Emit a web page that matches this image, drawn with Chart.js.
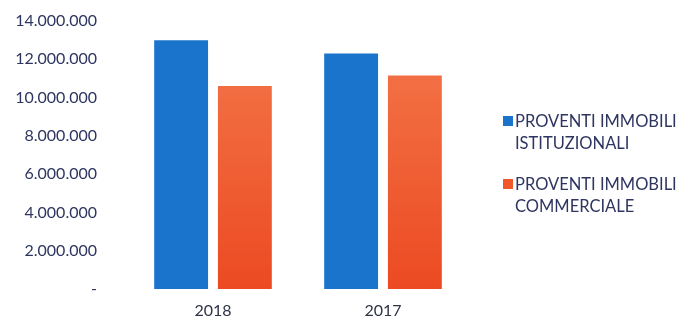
<!DOCTYPE html>
<html>
<head>
<meta charset="utf-8">
<script src="https://cdn.jsdelivr.net/npm/chart.js@4.4.1/dist/chart.umd.min.js"></script>
<style>
  body { margin: 0; background: #fff; }
  #wrap { position: relative; width: 681px; height: 322px; }
  #legend { position: absolute; left: 503px; top: 110px; font-family: Lato, sans-serif; font-size: 16.5px; color: #2e3560; line-height: 22px; }
  .item { position: relative; padding-left: 12px; margin-bottom: 19px; }
  .box { position: absolute; left: 0; top: 6px; width: 10px; height: 10px; }
</style>
</head>
<body>
<div id="wrap">
  <canvas id="chart" width="681" height="322"></canvas>
  <div id="legend"></div>
</div>
<script>
// categories and series
const years = ["2018", "2017"];
const istituzionali = [13000000, 12300000];
const commerciale = [10600000, 11150000];
const seriesNames = [["PROVENTI IMMOBILI", "ISTITUZIONALI"], ["PROVENTI IMMOBILI", "COMMERCIALE"]];

const blue = "#1b74cc";

function orangeFill(context) {
    const area = context.chart.chartArea;
    if (!area) return "#f0582c";
    const g = context.chart.ctx.createLinearGradient(0, area.top, 0, area.bottom);
    g.addColorStop(0, "#f4794c");
    g.addColorStop(1, "#ec4a22");
    return g;
}

const ctx = document.getElementById("chart");
new Chart(ctx, {
    type: "bar",
    data: {
        labels: years,
        datasets: [{
                label: seriesNames[0].join(" "),
                data: istituzionali,
                backgroundColor: blue
            }, {
                label: seriesNames[1].join(" "),
                data: commerciale,
                backgroundColor: orangeFill
            }]
    },
    options: {
        responsive: false,
        animation: false,
        categoryPercentage: 0.75,
        barPercentage: 0.845,
        layout: { padding: { left: 0, right: 213, top: 21, bottom: 0 } },
        plugins: {
            legend: { display: false },
            tooltip: { enabled: false }
        },
        scales: {
            x: {
                grid: { display: false, drawTicks: false },
                border: { display: false },
                afterFit: function (scale) { scale.height = 33; },
                ticks: { color: "#2e3347", font: { family: "Lato", size: 16 }, padding: 12 }
            },
            y: {
                min: 0,
                max: 14000000,
                grid: { display: false, drawTicks: false },
                border: { display: false },
                afterFit: function (scale) {
                    // tick padding would otherwise push the plot down and up
                    scale.width = 128;
                    scale.paddingTop = 0;
                    scale.paddingBottom = 0;
                },
                ticks: {
                    stepSize: 2000000,
                    padding: 31,
                    color: "#2e3560",
                    font: { family: "Lato", size: 16 },
                    callback: function (v) {
                        if (v === 0) return "-";
                        return v.toString().replace(/\B(?=(\d{3})+(?!\d))/g, ".");
                    }
                }
            }
        }
    }
});

// legend with two-line labels, built from the series names
const legend = document.getElementById("legend");
const colors = [blue, "#f0582c"];
seriesNames.forEach(function (lines, i) {
    const item = document.createElement("div");
    item.className = "item";
    item.innerHTML = '<span class="box" style="background:' + colors[i] + '"></span>' + lines.join("<br>");
    legend.appendChild(item);
});
</script>
</body>
</html>
